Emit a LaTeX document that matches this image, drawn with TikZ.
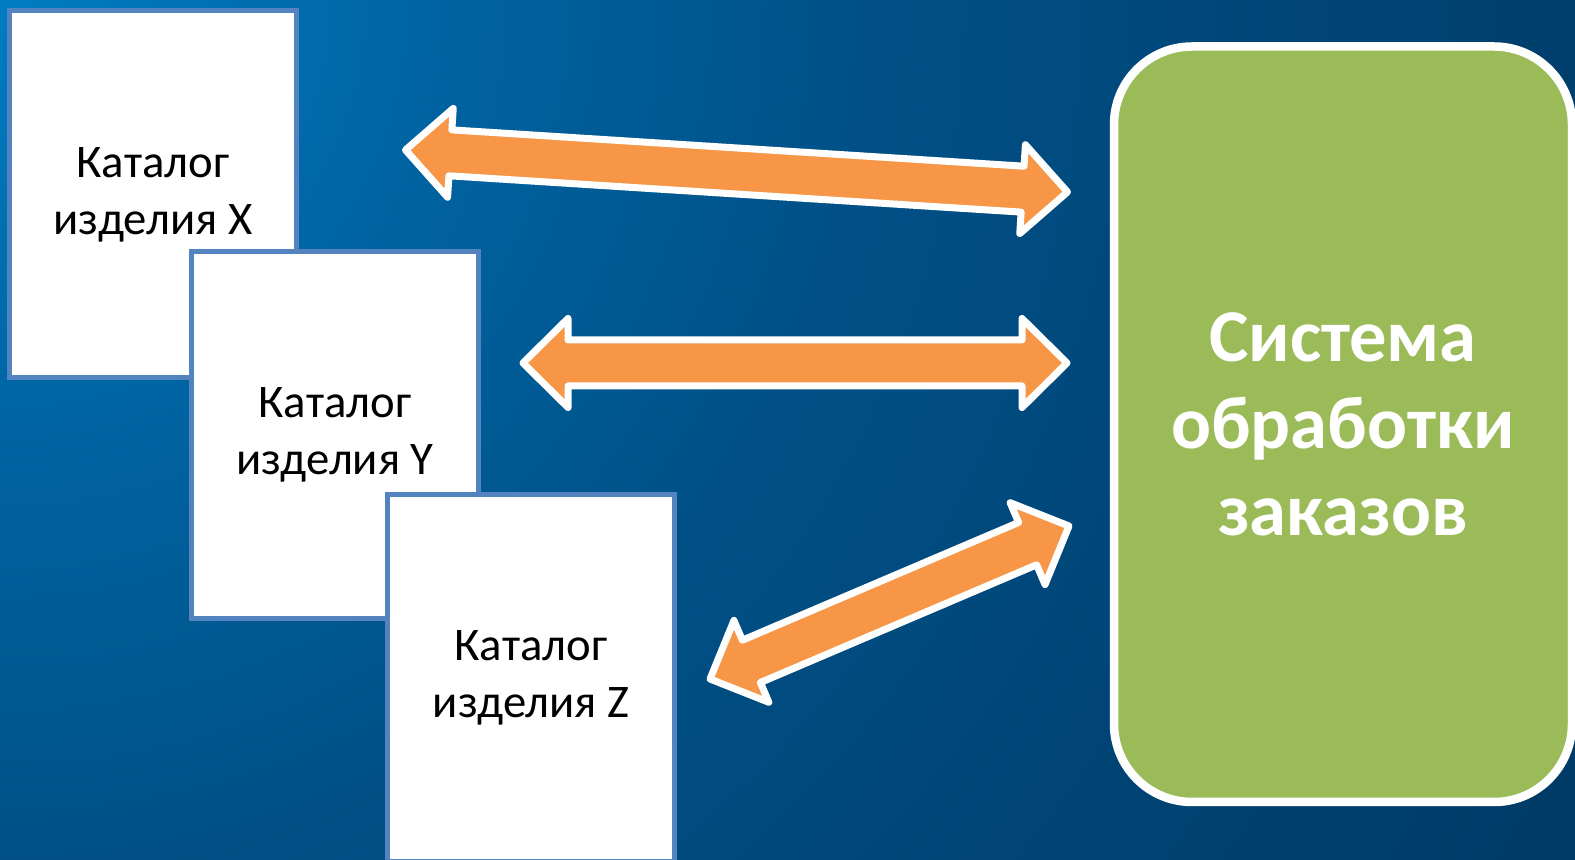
\documentclass[tikz,border=0pt]{standalone}
\usepackage{fontspec}
\setmainfont{Carlito}
\usetikzlibrary{calc,shadows}

\definecolor{bgA}{RGB}{0,124,194}
\definecolor{bgB}{RGB}{0,100,162}
\definecolor{bgC}{RGB}{0,80,135}
\definecolor{bgD}{RGB}{0,64,110}
\definecolor{bgE}{RGB}{0,58,102}
\definecolor{catline}{RGB}{84,132,192}
\definecolor{sysgreen}{RGB}{155,187,89}
\definecolor{arrorange}{RGB}{247,150,70}

\pgfdeclareradialshading{bgglow}{\pgfpoint{0bp}{0bp}}{color(0bp)=(bgA); color(6bp)=(bgB); color(12bp)=(bgC); color(21bp)=(bgD); color(25bp)=(bgE); color(50bp)=(bgE)}

\tikzset{
  catalog/.style={draw=catline, line width=0.05cm, fill=white, inner sep=0pt,
    minimum width=2.87cm, minimum height=3.67cm, align=center,
    font=\fontsize{13.3}{16.2}\selectfont},
  system/.style={draw=white, line width=0.085cm, fill=sysgreen, rounded corners=0.78cm,
    minimum width=4.58cm, minimum height=7.555cm, align=center, text=white,
    font=\fontsize{21.2}{24.8}\selectfont\bfseries,
    drop shadow={opacity=0.4, shadow xshift=0.02cm, shadow yshift=-0.04cm}},
  blockarrow/.style={draw=white, fill=arrorange, line width=0.07cm, line join=round,
    drop shadow={opacity=0.3, shadow xshift=0.02cm, shadow yshift=-0.03cm}}
}

%% double block arrow between two tips
\newcommand{\biarrow}[2]{%
  \draw[blockarrow] (#1)
    -- ($(#1)!0.45cm!(#2)!0.445cm!90:(#2)$)
    -- ($(#1)!0.45cm!(#2)!0.23cm!90:(#2)$)
    -- ($(#2)!0.45cm!(#1)!0.23cm!-90:(#1)$)
    -- ($(#2)!0.45cm!(#1)!0.445cm!-90:(#1)$)
    -- (#2)
    -- ($(#2)!0.45cm!(#1)!0.445cm!90:(#1)$)
    -- ($(#2)!0.45cm!(#1)!0.23cm!90:(#1)$)
    -- ($(#1)!0.45cm!(#2)!0.23cm!-90:(#2)$)
    -- ($(#1)!0.45cm!(#2)!0.445cm!-90:(#2)$)
    -- cycle;}

\begin{document}
\begin{tikzpicture}
\useasboundingbox (0,0) rectangle (15.75,8.6);
\begin{scope}
  \clip (0,0) rectangle (15.75,8.6);
  \shade[shading=bgglow] (-18,-9.4) rectangle (18,26.6);
\end{scope}

\node[catalog] (catx) at (1.53,6.655) {Каталог\\изделия X};
\node[catalog] (caty) at (3.35,4.25) {Каталог\\изделия Y};
\node[catalog] (catz) at (5.31,1.82) {Каталог\\изделия Z};

\node[system] (sys) at (13.43,4.3575) {Система\\обработки\\заказов};

\coordinate (x-end) at (4.055,7.10);
\coordinate (x-sys) at (10.675,6.68);
\coordinate (y-end) at (5.23,4.97);
\coordinate (y-sys) at (10.67,4.97);
\coordinate (z-end) at (7.10,1.81);
\coordinate (z-sys) at (10.69,3.34);

\biarrow{x-end}{x-sys}
\biarrow{y-end}{y-sys}
\biarrow{z-end}{z-sys}
\end{tikzpicture}
\end{document}
